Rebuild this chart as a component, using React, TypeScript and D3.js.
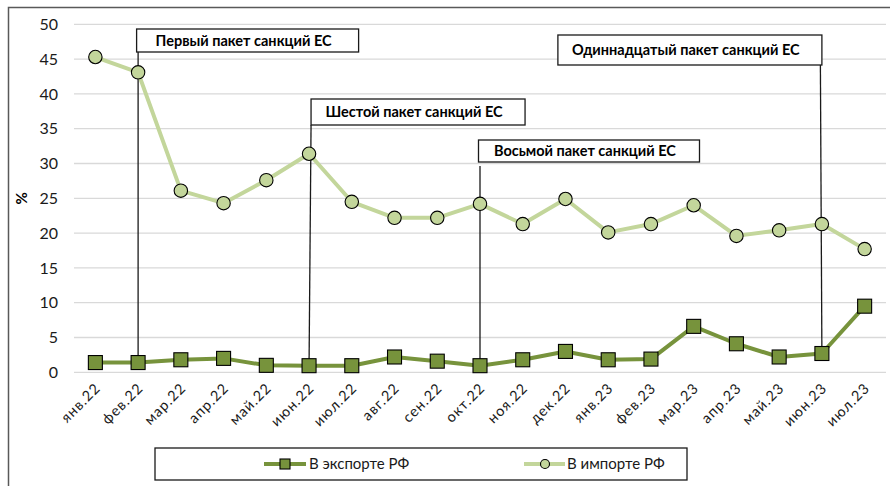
import { useRef, useEffect } from "react";
import * as d3 from "d3";

const WIDTH = 890;
const HEIGHT = 486;
const LEFT = 74;
const RIGHT = 886;
const TOP = 24.3;
const BOTTOM = 372.3;

const MONTHS = [
  "янв.22", "фев.22", "мар.22", "апр.22", "май.22", "июн.22", "июл.22",
  "авг.22", "сен.22", "окт.22", "ноя.22", "дек.22", "янв.23", "фев.23",
  "мар.23", "апр.23", "май.23", "июн.23", "июл.23",
];
const EXPORT = [1.4, 1.4, 1.8, 2.0, 1.0, 0.95, 0.95, 2.2, 1.6, 0.95, 1.8, 3.0, 1.8, 1.9, 6.6, 4.1, 2.2, 2.7, 9.5];
const IMPORT = [45.3, 43.1, 26.1, 24.3, 27.6, 31.4, 24.5, 22.2, 22.2, 24.2, 21.3, 24.9, 20.1, 21.3, 24.0, 19.6, 20.4, 21.3, 17.7];
const Y_TICKS = [0, 5, 10, 15, 20, 25, 30, 35, 40, 45, 50];
const SERIES = ["В экспорте РФ", "В импорте РФ"];

// пакеты санкций: подпись + месяц
const EVENTS = ["Первый пакет санкций ЕС", "Шестой пакет санкций ЕС", "Восьмой пакет санкций ЕС", "Одиннадцатый пакет санкций ЕС"];
const EVENT_MONTHS = ["фев.22", "июн.22", "окт.22", "июн.23"];

const EXPORT_COLOR = "#77933c";
const IMPORT_COLOR = "#c3d69b";
const FONT = "Lato, 'Open Sans', sans-serif";

export default function App() {
  const svgRef = useRef<SVGSVGElement>(null);

  useEffect(() => {
    const svg = d3.select(svgRef.current!);
    svg.selectAll("*").remove();

    const x = d3.scaleBand<string>().domain(MONTHS).range([LEFT, RIGHT]);
    const cx = (m: string) => x(m)! + x.bandwidth() / 2;
    const y = d3.scaleLinear([0, 50], [BOTTOM, TOP]);

    // рамка
    svg.append("rect")
      .attr("x", 8.5).attr("y", 7.5)
      .attr("width", 900).attr("height", 500)
      .attr("fill", "#fff").attr("stroke", "#595959").attr("stroke-width", 1.5);

    // сетка
    svg.append("g")
      .selectAll("line")
      .data(Y_TICKS)
      .join("line")
      .attr("x1", LEFT).attr("x2", RIGHT)
      .attr("y1", d => y(d)).attr("y2", d => y(d))
      .attr("stroke", "#d9d9d9").attr("stroke-width", 1.3);

    svg.append("g")
      .selectAll("text")
      .data(Y_TICKS)
      .join("text")
      .attr("x", 58).attr("y", d => y(d))
      .attr("dy", "0.36em")
      .attr("text-anchor", "end")
      .attr("font-family", FONT).attr("font-size", 16).attr("fill", "#1a1a1a")
      .text(d => d);

    svg.append("text")
      .attr("transform", `translate(27, ${y(25)}) rotate(-90)`)
      .attr("text-anchor", "middle")
      .attr("font-family", FONT).attr("font-size", 15).attr("font-weight", "bold")
      .text("%");

    svg.append("g")
      .selectAll("text")
      .data(MONTHS)
      .join("text")
      .attr("transform", d => `translate(${cx(d) + 6}, 389) rotate(-45)`)
      .attr("text-anchor", "end")
      .attr("font-family", FONT).attr("font-size", 14.5).attr("letter-spacing", 1)
      .attr("fill", "#1a1a1a")
      .text(d => d);

    // линии-выноски
    const boxes = [
      { x: cx(EVENT_MONTHS[0]) - 1.5, y: 29, w: 222, h: 23, lineX: cx(EVENT_MONTHS[0]), lineTop: 52 },
      { x: cx(EVENT_MONTHS[1]) + 2, y: 99, w: 214, h: 26, lineX: cx(EVENT_MONTHS[1]) + 2, lineTop: 125 },
      { x: cx(EVENT_MONTHS[2]) - 1.5, y: 140, w: 221, h: 22, lineX: cx(EVENT_MONTHS[2]), lineTop: 166 },
      { x: cx(EVENT_MONTHS[3]) - 264, y: 35, w: 264, h: 30, lineX: cx(EVENT_MONTHS[3]) - 1.5, lineTop: 65 },
    ];
    const lines = svg.append("g");
    EVENT_MONTHS.forEach((m, i) => {
      const b = boxes[i];
      lines.append("line")
        .attr("x1", b.lineX).attr("x2", cx(m))
        .attr("y1", b.lineTop).attr("y2", y(EXPORT[MONTHS.indexOf(m)]))
        .attr("stroke", "#1a1a1a").attr("stroke-width", 1.3);
    });

    const lineGen = d3.line<number>()
      .x((_, i) => cx(MONTHS[i]))
      .y(d => y(d));

    svg.append("path")
      .attr("d", lineGen(IMPORT))
      .attr("fill", "none").attr("stroke", IMPORT_COLOR).attr("stroke-width", 4)
      .attr("stroke-linejoin", "round");

    svg.append("path")
      .attr("d", lineGen(EXPORT))
      .attr("fill", "none").attr("stroke", EXPORT_COLOR).attr("stroke-width", 4)
      .attr("stroke-linejoin", "round");

    svg.append("g")
      .selectAll("circle")
      .data(IMPORT)
      .join("circle")
      .attr("cx", (_, i) => cx(MONTHS[i]))
      .attr("cy", d => y(d))
      .attr("r", 6.7)
      .attr("fill", IMPORT_COLOR).attr("stroke", "#000").attr("stroke-width", 1.1);

    svg.append("g")
      .selectAll("rect")
      .data(EXPORT)
      .join("rect")
      .attr("x", (_, i) => cx(MONTHS[i]) - 7)
      .attr("y", d => y(d) - 7)
      .attr("width", 14).attr("height", 14)
      .attr("fill", EXPORT_COLOR).attr("stroke", "#000").attr("stroke-width", 1.1);

    // подписи пакетов
    const ann = svg.append("g");
    EVENTS.forEach((t, i) => {
      const b = boxes[i];
      ann.append("rect")
        .attr("x", b.x).attr("y", b.y).attr("width", b.w).attr("height", b.h)
        .attr("fill", "#fff").attr("stroke", "#1a1a1a").attr("stroke-width", 1.3);
      ann.append("text")
        .attr("x", b.x + b.w / 2 - 4).attr("y", b.y + b.h / 2)
        .attr("dy", "0.36em")
        .attr("text-anchor", "middle")
        .attr("font-family", FONT).attr("font-size", 14.5).attr("font-weight", "bold")
        .text(t);
    });

    // легенда
    const lg = svg.append("g");
    lg.append("rect")
      .attr("x", 155).attr("y", 448).attr("width", 532).attr("height", 32)
      .attr("fill", "#fff").attr("stroke", "#1a1a1a").attr("stroke-width", 1.3);
    const items = [
      { x1: 264, x2: 306, mx: 285, tx: 309, color: EXPORT_COLOR },
      { x1: 524, x2: 565, mx: 545, tx: 567, color: IMPORT_COLOR },
    ];
    SERIES.forEach((s, i) => {
      const it = items[i];
      lg.append("line")
        .attr("x1", it.x1).attr("x2", it.x2).attr("y1", 464).attr("y2", 464)
        .attr("stroke", it.color).attr("stroke-width", 4);
      if (i === 0) {
        lg.append("rect")
          .attr("x", it.mx - 5).attr("y", 459).attr("width", 10).attr("height", 10)
          .attr("fill", it.color).attr("stroke", "#000").attr("stroke-width", 1.1);
      } else {
        lg.append("circle")
          .attr("cx", it.mx).attr("cy", 464).attr("r", 4.5)
          .attr("fill", it.color).attr("stroke", "#000").attr("stroke-width", 1.1);
      }
      lg.append("text")
        .attr("x", it.tx).attr("y", 464).attr("dy", "0.36em")
        .attr("font-family", FONT).attr("font-size", 15).attr("fill", "#1a1a1a")
        .text(s);
    });
  }, []);

  return (
    <svg
      ref={svgRef}
      width={WIDTH}
      height={HEIGHT}
      style={{ position: "absolute", left: 0, top: 0, background: "#fff" }}
    />
  );
}
